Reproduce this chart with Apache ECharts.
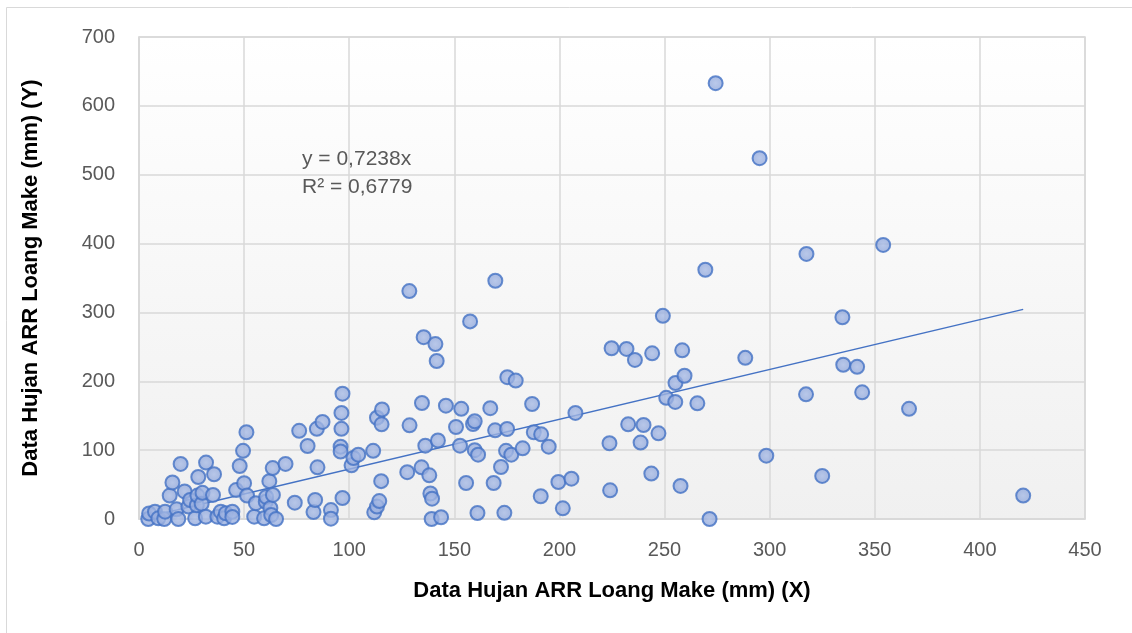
<!DOCTYPE html>
<html>
<head>
<meta charset="utf-8">
<script src="https://cdn.jsdelivr.net/npm/echarts@6/dist/echarts.min.js"></script>
<style>html,body{margin:0;padding:0;background:#fff}#c{width:1132px;height:633px}</style>
</head>
<body>
<div id="c"></div>
<script>
const xValues = [4.4,4.8,7.6,9.2,12,12.4,14.6,15.9,17.9,18.7,19.8,21.7,23.5,24.3,26.7,27.5,27.8,28.2,29.8,30.2,31.8,31.9,35.2,35.7,37.3,38.9,40.5,41.3,44.4,44.4,46.2,47.9,49.5,50,51.1,51.4,54.8,55.6,59.5,60.3,60.5,62,62.5,62.9,63.6,63.7,65.2,69.7,
74.1,76.2,80.2,83,83.8,84.6,84.9,87.3,91.3,91.3,95.9,95.9,96.3,96.3,96.8,96.8,101.1,102,104.3,111.4,111.9,113.2,113.2,114.3,115.2,115.4,115.6,127.6,128.6,128.7,
134.4,134.6,135.4,136.2,138.1,138.6,139.2,139.4,141,141.6,142.2,143.7,146,150.8,152.7,153.3,155.6,157.5,158.9,159.7,159.7,161,161.3,167.1,168.7,169.4,169.5,
172.2,173.8,174.6,175.1,175.2,177.1,179.2,182.5,187,187.8,191.1,191.3,194.9,199.5,201.6,205.7,207.6,223.8,224.1,224.8,231.9,232.7,235.9,238.6,240,243.7,244.1,247.1,249.2,250.8,255.1,255.2,257.6,258.4,259.5,265.6,269.4,271.4,274.3,288.4,295.2,298.4,317.3,317.5,325,334.6,335,341.6,344,354,366.3,420.6];
const yValues = [0,8,10.6,1,0,10.6,34,53,14,0,80,40,18,27.6,1,20,34,61,22,38,3.4,82,35,65,3.4,10.6,1,8.3,10.6,3,42,77,99,52,126,34,3.4,23,1,25,32,55,16,5.8,74,35,0,80,
23.7,128,106,10,27.6,131,75,141,13,0.5,105,98,154,131,182,30.5,78,88.6,93.4,99,9.7,18,147,26,55,137.5,159,68,331,136,
75,168.5,264,106.5,63.4,37,0,29.5,254,229.5,114,2.5,164.6,133.6,106.5,160,52.3,287,138,142,100,8.7,93.4,161,52.3,128.8,346,
75.5,9,99,130.7,206,93.4,201,102.6,167,126,33,123,105,53.7,15.5,58.6,154,110,41.6,248,247,137.5,231,111,136.5,66,240.6,124.4,295,176,170,197.5,48,245,208,168,362,0,633,234,524,92,181,385,62.5,293,224,221,184,398,160,34];

// Linear trendline through origin (Excel: y = 0,7238x)
const trendSlope = 0.7238;
const trendLabel = ['y = 0,7238x', 'R² = 0,6779'];
const xTicks = {min: 0, max: 450, interval: 50};
const yTicks = {min: 0, max: 700, interval: 100};

const points = xValues.map((x, i) => [x, yValues[i]]);
const xMin = Math.min(...xValues), xMax = Math.max(...xValues);
const trend = [[xMin, trendSlope * xMin], [xMax, trendSlope * xMax]];

const chart = echarts.init(document.getElementById('c'), null, {renderer: 'canvas'});
const font = 'Liberation Sans, Arial, sans-serif';
chart.setOption({
  animation: false,
  backgroundColor: '#ffffff',
  graphic: [{
    type: 'rect', z: -10, silent: true,
    shape: {x: 6.5, y: 7.5, width: 1140, height: 640},
    style: {fill: 'none', stroke: '#d9d9d9', lineWidth: 1}
  }],
  grid: {
    left: 139, right: 47, top: 37, bottom: 114,
    show: true,
    borderColor: '#d9d9d9', borderWidth: 1.5,
    backgroundColor: new echarts.graphic.LinearGradient(0, 0, 0, 1, [
      {offset: 0, color: '#ffffff'}, {offset: 1, color: '#f0f0f0'}
    ])
  },
  xAxis: {
    type: 'value', min: xTicks.min, max: xTicks.max, interval: xTicks.interval,
    name: 'Data Hujan ARR Loang Make (mm) (X)',
    nameLocation: 'middle', nameGap: 61,
    nameTextStyle: {fontFamily: font, fontSize: 22, fontWeight: 'bold', color: '#000'},
    axisLine: {show: true, lineStyle: {color: '#d9d9d9', width: 1.5}},
    axisTick: {show: false},
    axisLabel: {fontFamily: font, fontSize: 20, color: '#595959', margin: 21},
    splitLine: {show: true, lineStyle: {color: '#d9d9d9', width: 1.5}}
  },
  yAxis: {
    type: 'value', min: yTicks.min, max: yTicks.max, interval: yTicks.interval,
    name: 'Data Hujan ARR Loang Make (mm) (Y)',
    nameLocation: 'middle', nameGap: 97, nameRotate: 90,
    nameTextStyle: {fontFamily: font, fontSize: 22, fontWeight: 'bold', color: '#000'},
    axisLine: {show: true, lineStyle: {color: '#d9d9d9', width: 1.5}},
    axisTick: {show: false},
    axisLabel: {fontFamily: font, fontSize: 20, color: '#595959', margin: 24},
    splitLine: {show: true, lineStyle: {color: '#d9d9d9', width: 1.5}}
  },
  series: [{
    type: 'line', data: trend, symbol: 'none', silent: true, z: 1,
    lineStyle: {color: '#4472c4', width: 1.5}
  }, {
    type: 'scatter', data: points, symbol: 'circle', symbolSize: 14, z: 2,
    itemStyle: {
      color: new echarts.graphic.RadialGradient(0.5, 0.5, 0.6, [
        {offset: 0, color: '#a9bce6'}, {offset: 1, color: '#8aa2d8'}
      ]),
      borderColor: '#4472c4', borderWidth: 2
    }
  }],
  title: {
    text: trendLabel.join('\n'), left: 297, top: 140,
    textStyle: {fontFamily: font, fontSize: 21, fontWeight: 'normal', color: '#595959', lineHeight: 28}
  }
});
</script>
</body>
</html>
